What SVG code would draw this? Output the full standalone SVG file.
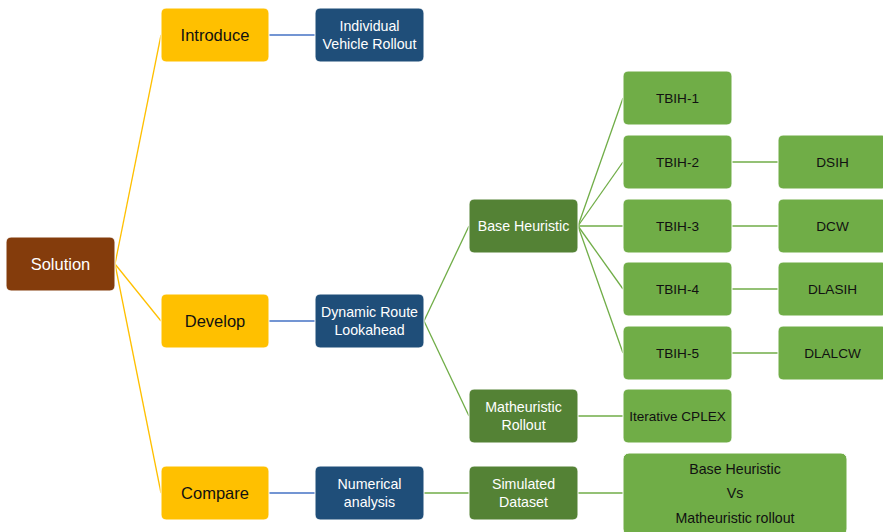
<svg xmlns="http://www.w3.org/2000/svg" width="883" height="532" viewBox="0 0 883 532">
  <style>
    .box { stroke: #ffffff; stroke-width: 1; }
    .root { fill: #843C0C; }
    .l1 { fill: #FFC000; }
    .l2 { fill: #1F4E79; }
    .l3 { fill: #548235; }
    .l4 { fill: #70AD47; }
    text { font-family: "Liberation Sans", Arial, sans-serif; text-anchor: middle; dominant-baseline: central; }
    .big { font-size: 16.5px; }
    .mid { font-size: 14.2px; }
    .sm { font-size: 13.6px; }
    .dark { fill: #111111; }
    .light { fill: #ffffff; }
    .cy { stroke: #FFC000; stroke-width: 1.3; fill: none; }
    .cb { stroke: #4472C4; stroke-width: 1.3; fill: none; }
    .cg { stroke: #70AD47; stroke-width: 1.3; fill: none; }
  </style>

  <g id="connectors">
    <line class="cy" x1="115" y1="264" x2="161" y2="35"/>
    <line class="cy" x1="115" y1="264" x2="161" y2="321"/>
    <line class="cy" x1="115" y1="264" x2="161" y2="493"/>
    <line class="cb" x1="269" y1="35" x2="315" y2="35"/>
    <line class="cb" x1="269" y1="321" x2="315" y2="321"/>
    <line class="cb" x1="269" y1="493" x2="315" y2="493"/>
    <line class="cg" x1="424" y1="321" x2="469" y2="226"/>
    <line class="cg" x1="424" y1="321" x2="469" y2="416"/>
    <line class="cg" x1="424" y1="493" x2="469" y2="493"/>
    <line class="cg" x1="578" y1="226" x2="623" y2="98"/>
    <line class="cg" x1="578" y1="226" x2="623" y2="162"/>
    <line class="cg" x1="578" y1="226" x2="623" y2="226"/>
    <line class="cg" x1="578" y1="226" x2="623" y2="289"/>
    <line class="cg" x1="578" y1="226" x2="623" y2="353"/>
    <line class="cg" x1="578" y1="416" x2="623" y2="416"/>
    <line class="cg" x1="578" y1="493" x2="623" y2="493"/>
    <line class="cg" x1="732" y1="162" x2="778" y2="162"/>
    <line class="cg" x1="732" y1="226" x2="778" y2="226"/>
    <line class="cg" x1="732" y1="289" x2="778" y2="289"/>
    <line class="cg" x1="732" y1="353" x2="778" y2="353"/>
  </g>

  <g id="solution">
    <rect class="box root" x="6" y="237" width="109" height="54" rx="5"/>
    <text class="big light" x="60.5" y="264">Solution</text>
  </g>

  <g id="introduce">
    <rect class="box l1" x="161" y="8" width="108" height="54" rx="5"/>
    <text class="big dark" x="215" y="35">Introduce</text>
  </g>
  <g id="develop">
    <rect class="box l1" x="161" y="294" width="108" height="54" rx="5"/>
    <text class="big dark" x="215" y="321">Develop</text>
  </g>
  <g id="compare">
    <rect class="box l1" x="161" y="466" width="108" height="54" rx="5"/>
    <text class="big dark" x="215" y="493">Compare</text>
  </g>

  <g id="individual-vehicle-rollout">
    <rect class="box l2" x="315" y="8" width="109" height="54" rx="5"/>
    <text class="mid light" x="369.5" y="26">Individual</text>
    <text class="mid light" x="369.5" y="43.5">Vehicle Rollout</text>
  </g>
  <g id="dynamic-route-lookahead">
    <rect class="box l2" x="315" y="294" width="109" height="54" rx="5"/>
    <text class="mid light" x="369.5" y="312">Dynamic Route</text>
    <text class="mid light" x="369.5" y="329.5">Lookahead</text>
  </g>
  <g id="numerical-analysis">
    <rect class="box l2" x="315" y="466" width="109" height="54" rx="5"/>
    <text class="mid light" x="369.5" y="484">Numerical</text>
    <text class="mid light" x="369.5" y="501.5">analysis</text>
  </g>

  <g id="base-heuristic">
    <rect class="box l3" x="469" y="199" width="109" height="54" rx="5"/>
    <text class="mid light" x="523.5" y="226">Base Heuristic</text>
  </g>
  <g id="matheuristic-rollout">
    <rect class="box l3" x="469" y="389" width="109" height="54" rx="5"/>
    <text class="mid light" x="523.5" y="407">Matheuristic</text>
    <text class="mid light" x="523.5" y="424.5">Rollout</text>
  </g>
  <g id="simulated-dataset">
    <rect class="box l3" x="469" y="466" width="109" height="54" rx="5"/>
    <text class="mid light" x="523.5" y="484">Simulated</text>
    <text class="mid light" x="523.5" y="501.5">Dataset</text>
  </g>

  <g id="tbih-1">
    <rect class="box l4" x="623" y="71" width="109" height="54" rx="5"/>
    <text class="sm dark" x="677.5" y="98">TBIH-1</text>
  </g>
  <g id="tbih-2">
    <rect class="box l4" x="623" y="135" width="109" height="54" rx="5"/>
    <text class="sm dark" x="677.5" y="162">TBIH-2</text>
  </g>
  <g id="tbih-3">
    <rect class="box l4" x="623" y="199" width="109" height="54" rx="5"/>
    <text class="sm dark" x="677.5" y="226">TBIH-3</text>
  </g>
  <g id="tbih-4">
    <rect class="box l4" x="623" y="262" width="109" height="54" rx="5"/>
    <text class="sm dark" x="677.5" y="289">TBIH-4</text>
  </g>
  <g id="tbih-5">
    <rect class="box l4" x="623" y="326" width="109" height="54" rx="5"/>
    <text class="sm dark" x="677.5" y="353">TBIH-5</text>
  </g>
  <g id="iterative-cplex">
    <rect class="box l4" x="623" y="389" width="109" height="54" rx="5"/>
    <text class="sm dark" x="677.5" y="416">Iterative CPLEX</text>
  </g>

  <g id="dsih">
    <rect class="box l4" x="778" y="135" width="109" height="54" rx="5"/>
    <text class="sm dark" x="832.5" y="162">DSIH</text>
  </g>
  <g id="dcw">
    <rect class="box l4" x="778" y="199" width="109" height="54" rx="5"/>
    <text class="sm dark" x="832.5" y="226">DCW</text>
  </g>
  <g id="dlasih">
    <rect class="box l4" x="778" y="262" width="109" height="54" rx="5"/>
    <text class="sm dark" x="832.5" y="289">DLASIH</text>
  </g>
  <g id="dlalcw">
    <rect class="box l4" x="778" y="326" width="109" height="54" rx="5"/>
    <text class="sm dark" x="832.5" y="353">DLALCW</text>
  </g>

  <g id="comparison">
    <rect class="box l4" x="623" y="453" width="224" height="82" rx="6"/>
    <text class="mid dark" x="735" y="468.5">Base Heuristic</text>
    <text class="mid dark" x="735" y="493">Vs</text>
    <text class="mid dark" x="735" y="517.5">Matheuristic rollout</text>
  </g>
</svg>
